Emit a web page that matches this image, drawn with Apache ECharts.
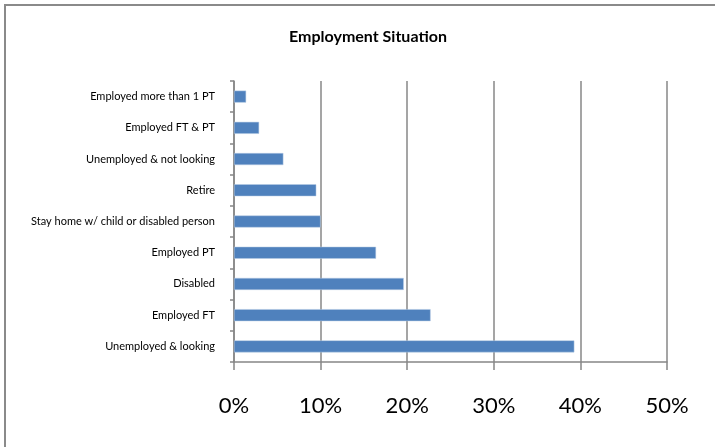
<!DOCTYPE html>
<html>
<head>
<meta charset="utf-8">
<style>
  html, body { margin: 0; padding: 0; background: #fff; }
  #chart { width: 715px; height: 447px; }
</style>
<script src="https://cdn.jsdelivr.net/npm/echarts@6/dist/echarts.min.js"></script>
</head>
<body>
<div id="chart"></div>
<script>
// Categories listed top to bottom
const categories = [
  'Employed more than 1 PT',
  'Employed FT & PT',
  'Unemployed & not looking',
  'Retire',
  'Stay home w/ child or disabled person',
  'Employed PT',
  'Disabled',
  'Employed FT',
  'Unemployed & looking'
];
// Share of respondents, percent
const shares = [1.4, 2.9, 5.7, 9.5, 10.0, 16.4, 19.6, 22.7, 39.3];
const xTicks = [0, 10, 20, 30, 40, 50];

const chart = echarts.init(document.getElementById('chart'), null, { renderer: 'canvas' });
const gridColor = '#878787';

chart.setOption({
  animation: false,
  backgroundColor: '#fff',
  graphic: [{
    type: 'rect',
    shape: { x: 5, y: 5, width: 760, height: 500 },
    style: { fill: 'none', stroke: '#8a8a8a', lineWidth: 2 },
    silent: true,
    z: -1
  }],
  title: {
    text: 'Employment Situation',
    left: 363,
    textAlign: 'center',
    top: 24,
    padding: 5,
    textStyle: { fontFamily: 'Lato', fontWeight: 'bold', fontSize: 16, color: '#000' }
  },
  grid: { left: 234, right: 48, top: 81, bottom: 85, containLabel: false },
  xAxis: {
    type: 'value',
    min: xTicks[0],
    max: xTicks[xTicks.length - 1],
    interval: 10,
    axisLine: { show: true, lineStyle: { color: gridColor, width: 1.5 } },
    axisTick: { show: true, length: 8, lineStyle: { color: gridColor, width: 1.5 } },
    splitLine: { show: true, lineStyle: { color: gridColor, width: 1.5 } },
    axisLabel: {
      formatter: v => v + '%',
      fontFamily: 'Lato',
      fontSize: 22,
      color: '#000',
      margin: 33
    }
  },
  yAxis: {
    type: 'category',
    data: categories,
    inverse: true,
    axisLine: { show: true, lineStyle: { color: gridColor, width: 1.5 } },
    axisTick: { show: true, length: 4, lineStyle: { color: gridColor, width: 1.5 } },
    axisLabel: {
      fontFamily: 'Lato',
      fontSize: 11,
      color: '#000',
      margin: 19
    }
  },
  series: [{
    type: 'bar',
    data: shares,
    barWidth: 12,
    itemStyle: { color: '#4F81BD', borderColor: '#b9cde5', borderWidth: 0.5 }
  }]
});
</script>
</body>
</html>
